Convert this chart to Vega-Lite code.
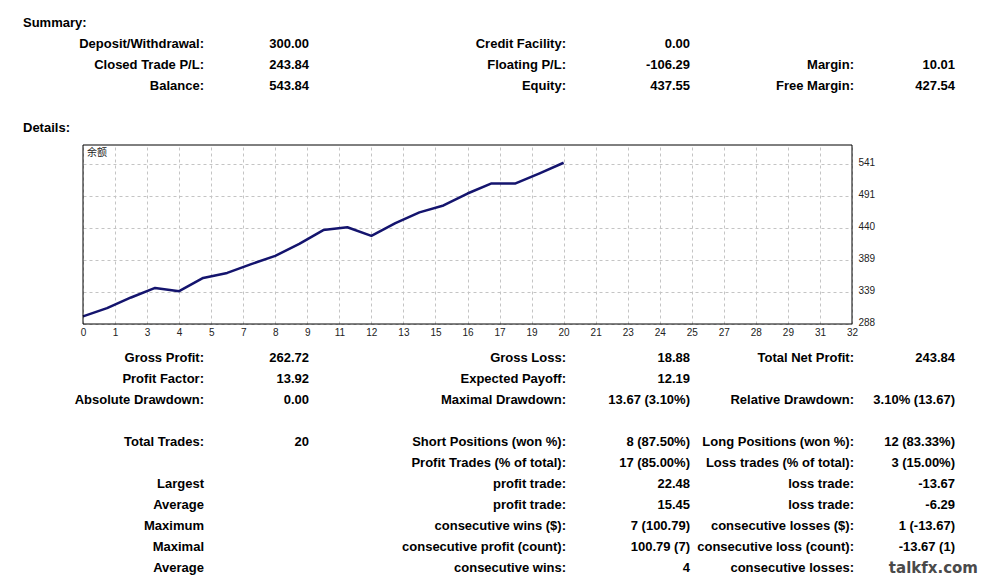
{
  "$schema": "https://vega.github.io/schema/vega-lite/v6.json",
  "width": 984,
  "height": 577,
  "autosize": "none",
  "padding": 0,
  "background": "white",
  "config": {"view": {"stroke": null}, "font": "Liberation Sans"},
  "datasets": {
    "table": [
      {"row": 0, "col": 0, "role": "heading", "text": "Summary:"},
      {"row": 1, "col": 1, "role": "label", "text": "Deposit/Withdrawal:"},
      {"row": 1, "col": 2, "role": "value", "text": "300.00"},
      {"row": 1, "col": 3, "role": "label", "text": "Credit Facility:"},
      {"row": 1, "col": 4, "role": "value", "text": "0.00"},
      {"row": 2, "col": 1, "role": "label", "text": "Closed Trade P/L:"},
      {"row": 2, "col": 2, "role": "value", "text": "243.84"},
      {"row": 2, "col": 3, "role": "label", "text": "Floating P/L:"},
      {"row": 2, "col": 4, "role": "value", "text": "-106.29"},
      {"row": 2, "col": 5, "role": "label", "text": "Margin:"},
      {"row": 2, "col": 6, "role": "value", "text": "10.01"},
      {"row": 3, "col": 1, "role": "label", "text": "Balance:"},
      {"row": 3, "col": 2, "role": "value", "text": "543.84"},
      {"row": 3, "col": 3, "role": "label", "text": "Equity:"},
      {"row": 3, "col": 4, "role": "value", "text": "437.55"},
      {"row": 3, "col": 5, "role": "label", "text": "Free Margin:"},
      {"row": 3, "col": 6, "role": "value", "text": "427.54"},
      {"row": 5, "col": 0, "role": "heading", "text": "Details:"},
      {"row": 16, "col": 1, "role": "label", "text": "Gross Profit:"},
      {"row": 16, "col": 2, "role": "value", "text": "262.72"},
      {"row": 16, "col": 3, "role": "label", "text": "Gross Loss:"},
      {"row": 16, "col": 4, "role": "value", "text": "18.88"},
      {"row": 16, "col": 5, "role": "label", "text": "Total Net Profit:"},
      {"row": 16, "col": 6, "role": "value", "text": "243.84"},
      {"row": 17, "col": 1, "role": "label", "text": "Profit Factor:"},
      {"row": 17, "col": 2, "role": "value", "text": "13.92"},
      {"row": 17, "col": 3, "role": "label", "text": "Expected Payoff:"},
      {"row": 17, "col": 4, "role": "value", "text": "12.19"},
      {"row": 18, "col": 1, "role": "label", "text": "Absolute Drawdown:"},
      {"row": 18, "col": 2, "role": "value", "text": "0.00"},
      {"row": 18, "col": 3, "role": "label", "text": "Maximal Drawdown:"},
      {"row": 18, "col": 4, "role": "value", "text": "13.67 (3.10%)"},
      {"row": 18, "col": 5, "role": "label", "text": "Relative Drawdown:"},
      {"row": 18, "col": 6, "role": "value", "text": "3.10% (13.67)"},
      {"row": 20, "col": 1, "role": "label", "text": "Total Trades:"},
      {"row": 20, "col": 2, "role": "value", "text": "20"},
      {"row": 20, "col": 3, "role": "label", "text": "Short Positions (won %):"},
      {"row": 20, "col": 4, "role": "value", "text": "8 (87.50%)"},
      {"row": 20, "col": 5, "role": "label", "text": "Long Positions (won %):"},
      {"row": 20, "col": 6, "role": "value", "text": "12 (83.33%)"},
      {"row": 21, "col": 3, "role": "label", "text": "Profit Trades (% of total):"},
      {"row": 21, "col": 4, "role": "value", "text": "17 (85.00%)"},
      {"row": 21, "col": 5, "role": "label", "text": "Loss trades (% of total):"},
      {"row": 21, "col": 6, "role": "value", "text": "3 (15.00%)"},
      {"row": 22, "col": 1, "role": "label", "text": "Largest"},
      {"row": 22, "col": 3, "role": "label", "text": "profit trade:"},
      {"row": 22, "col": 4, "role": "value", "text": "22.48"},
      {"row": 22, "col": 5, "role": "label", "text": "loss trade:"},
      {"row": 22, "col": 6, "role": "value", "text": "-13.67"},
      {"row": 23, "col": 1, "role": "label", "text": "Average"},
      {"row": 23, "col": 3, "role": "label", "text": "profit trade:"},
      {"row": 23, "col": 4, "role": "value", "text": "15.45"},
      {"row": 23, "col": 5, "role": "label", "text": "loss trade:"},
      {"row": 23, "col": 6, "role": "value", "text": "-6.29"},
      {"row": 24, "col": 1, "role": "label", "text": "Maximum"},
      {"row": 24, "col": 3, "role": "label", "text": "consecutive wins ($):"},
      {"row": 24, "col": 4, "role": "value", "text": "7 (100.79)"},
      {"row": 24, "col": 5, "role": "label", "text": "consecutive losses ($):"},
      {"row": 24, "col": 6, "role": "value", "text": "1 (-13.67)"},
      {"row": 25, "col": 1, "role": "label", "text": "Maximal"},
      {"row": 25, "col": 3, "role": "label", "text": "consecutive profit (count):"},
      {"row": 25, "col": 4, "role": "value", "text": "100.79 (7)"},
      {"row": 25, "col": 5, "role": "label", "text": "consecutive loss (count):"},
      {"row": 25, "col": 6, "role": "value", "text": "-13.67 (1)"},
      {"row": 26, "col": 1, "role": "label", "text": "Average"},
      {"row": 26, "col": 3, "role": "label", "text": "consecutive wins:"},
      {"row": 26, "col": 4, "role": "value", "text": "4"},
      {"row": 26, "col": 5, "role": "label", "text": "consecutive losses:"},
      {"row": 26, "col": 7, "role": "watermark", "text": "talkfx.com"}
    ],
    "balance": [
      {"trade": 0, "balance": 300.0},
      {"trade": 1, "balance": 313.0},
      {"trade": 2, "balance": 330.0},
      {"trade": 3, "balance": 345.2},
      {"trade": 4, "balance": 340.0},
      {"trade": 5, "balance": 361.0},
      {"trade": 6, "balance": 369.0},
      {"trade": 7, "balance": 383.0},
      {"trade": 8, "balance": 396.0},
      {"trade": 9, "balance": 415.0},
      {"trade": 10, "balance": 437.0},
      {"trade": 11, "balance": 441.5},
      {"trade": 12, "balance": 427.83},
      {"trade": 13, "balance": 448.0},
      {"trade": 14, "balance": 465.0},
      {"trade": 15, "balance": 476.0},
      {"trade": 16, "balance": 495.0},
      {"trade": 17, "balance": 511.0},
      {"trade": 18, "balance": 511.0},
      {"trade": 19, "balance": 527.0},
      {"trade": 20, "balance": 543.84}
    ]
  },
  "layer": [
    {
      "data": {"name": "table"},
      "transform": [{"filter": "datum.role == 'heading'"}],
      "mark": {"type": "text", "align": "left", "baseline": "middle", "font": "Liberation Sans", "fontWeight": "bold", "fontSize": 13, "color": "#000000"},
      "encoding": {
        "x": {"field": "col", "type": "quantitative", "axis": null, "scale": {"domain": [0, 1, 2, 3, 4, 5, 6, 7], "range": [23, 204, 309, 566, 690, 854, 955, 978], "nice": false, "zero": false}},
        "y": {"field": "row", "type": "quantitative", "axis": null, "scale": {"domain": [0, 26], "range": [23, 568], "nice": false, "zero": false}},
        "text": {"field": "text"}
      }
    },
    {
      "data": {"name": "table"},
      "transform": [{"filter": "datum.role == 'label' || datum.role == 'value'"}],
      "mark": {"type": "text", "align": "right", "baseline": "middle", "font": "Liberation Sans", "fontWeight": "bold", "fontSize": 13, "color": "#000000"},
      "encoding": {
        "x": {"field": "col", "type": "quantitative", "axis": null, "scale": {"domain": [0, 1, 2, 3, 4, 5, 6, 7], "range": [23, 204, 309, 566, 690, 854, 955, 978], "nice": false, "zero": false}},
        "y": {"field": "row", "type": "quantitative", "axis": null, "scale": {"domain": [0, 26], "range": [23, 568], "nice": false, "zero": false}},
        "text": {"field": "text"}
      }
    },
    {
      "data": {"name": "table"},
      "transform": [{"filter": "datum.role == 'watermark'"}],
      "mark": {"type": "text", "align": "right", "baseline": "middle", "font": "DejaVu Sans", "fontWeight": "bold", "fontSize": 15, "color": "#4a4a4a"},
      "encoding": {
        "x": {"field": "col", "type": "quantitative", "axis": null, "scale": {"domain": [0, 1, 2, 3, 4, 5, 6, 7], "range": [23, 204, 309, 566, 690, 854, 955, 978], "nice": false, "zero": false}},
        "y": {"field": "row", "type": "quantitative", "axis": null, "scale": {"domain": [0, 26], "range": [23, 568], "nice": false, "zero": false}},
        "text": {"field": "text"}
      }
    },
    {
      "data": {"name": "balance"},
      "layer": [
        {
          "mark": {"type": "line", "color": "#14146e", "strokeWidth": 2.5, "strokeJoin": "round"},
          "encoding": {
            "x": {
              "field": "trade", "type": "quantitative",
              "scale": {"domain": [0, 32], "range": [83, 852], "nice": false, "zero": false},
              "axis": {
                "orient": "top", "title": null,
                "values": [0, 1.3333333, 2.6666667, 4, 5.3333333, 6.6666667, 8, 9.3333333, 10.6666667, 12, 13.3333333, 14.6666667, 16, 17.3333333, 18.6666667, 20, 21.3333333, 22.6666667, 24, 25.3333333, 26.6666667, 28, 29.3333333, 30.6666667, 32],
                "grid": true, "gridColor": "#c4c4c4", "gridDash": [3, 3], "gridWidth": 1,
                "ticks": false, "domain": false, "labels": false
              }
            },
            "y": {
              "field": "balance", "type": "quantitative",
              "scale": {"domain": [287.9, 572], "range": [324, 145], "nice": false, "zero": false},
              "axis": {
                "orient": "left", "title": null,
                "values": [287.9, 338.6, 389.3, 440.0, 490.7, 541.4],
                "grid": true, "gridColor": "#c4c4c4", "gridDash": [3, 3], "gridWidth": 1,
                "ticks": false, "domain": false, "labels": false
              }
            }
          }
        },
        {
          "data": {"values": [{}]},
          "mark": {"type": "rect", "fill": null, "stroke": "#000000", "strokeWidth": 1},
          "encoding": {
            "x": {
              "datum": 0, "type": "quantitative",
              "scale": {"domain": [0, 32], "range": [83, 852], "nice": false, "zero": false},
              "axis": {
                "orient": "bottom", "offset": -253, "title": null,
                "values": [0, 1.3333333, 2.6666667, 4, 5.3333333, 6.6666667, 8, 9.3333333, 10.6666667, 12, 13.3333333, 14.6666667, 16, 17.3333333, 18.6666667, 20, 21.3333333, 22.6666667, 24, 25.3333333, 26.6666667, 28, 29.3333333, 30.6666667, 32],
                "labelExpr": "format(round(datum.value), 'd')",
                "grid": false, "ticks": false, "domain": false,
                "labelFont": "Liberation Sans", "labelFontSize": 10, "labelColor": "#222222", "labelPadding": 3,
                "labelOverlap": false, "labelFlush": false
              }
            },
            "x2": {"datum": 32},
            "y": {
              "datum": 287.9, "type": "quantitative",
              "scale": {"domain": [287.9, 572], "range": [324, 145], "nice": false, "zero": false},
              "axis": {
                "orient": "right", "offset": -132, "title": null,
                "values": [287.9, 338.6, 389.3, 440.0, 490.7, 541.4],
                "format": ".0f",
                "grid": false, "ticks": false, "domain": false,
                "labelFont": "Liberation Sans", "labelFontSize": 10, "labelColor": "#222222", "labelPadding": 6, "labelOffset": -2,
                "labelOverlap": false, "labelFlush": false
              }
            },
            "y2": {"datum": 572}
          }
        },
        {
          "data": {"values": [{}]},
          "mark": {"type": "text", "text": "余额", "align": "left", "baseline": "top", "dx": 4, "dy": 3, "font": "Noto Sans CJK SC", "fontSize": 10, "color": "#222222"},
          "encoding": {
            "x": {"datum": 0, "type": "quantitative", "axis": null, "scale": {"domain": [0, 32], "range": [83, 852], "nice": false, "zero": false}},
            "y": {"datum": 572, "type": "quantitative", "axis": null, "scale": {"domain": [287.9, 572], "range": [324, 145], "nice": false, "zero": false}}
          }
        }
      ],
      "resolve": {"scale": {"x": "independent", "y": "independent"}}
    }
  ],
  "resolve": {"scale": {"x": "independent", "y": "independent"}}
}
